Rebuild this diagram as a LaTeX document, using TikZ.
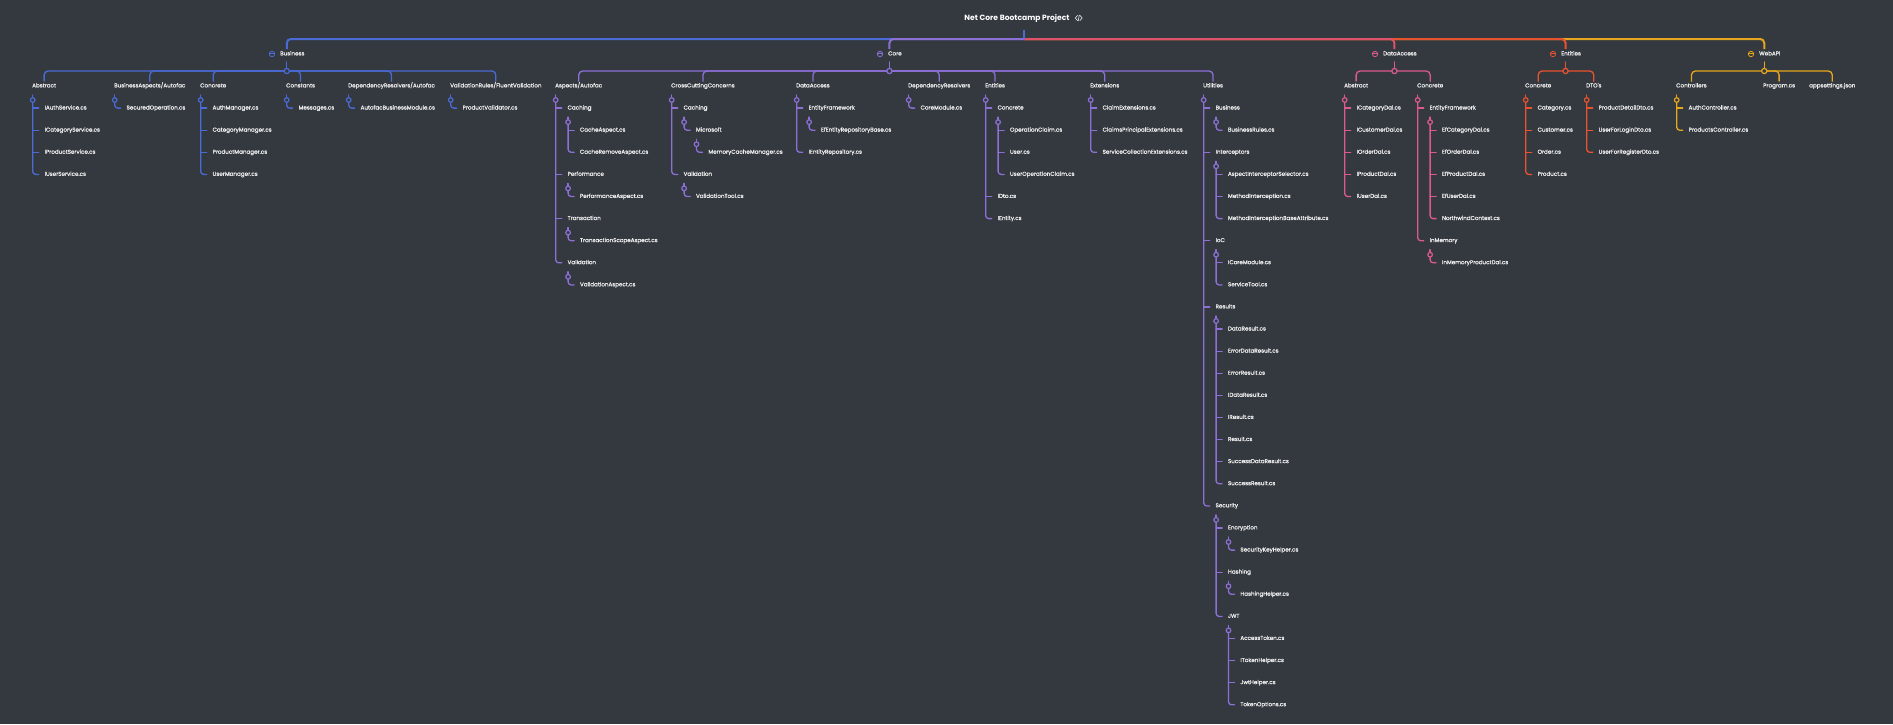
\documentclass[tikz,border=0pt]{standalone}
\usepackage{fontspec}
\setmainfont{Poppins}
\newfontfamily\medfont{Poppins}[FakeBold=0.9]
\definecolor{bg}{HTML}{34393F}
\definecolor{txtc}{HTML}{EEEEEE}
\definecolor{bizc}{HTML}{4A6BD6}
\definecolor{corec}{HTML}{8D70D6}
\definecolor{dac}{HTML}{DC5A8E}
\definecolor{datop}{HTML}{E0526A}
\definecolor{entc}{HTML}{E8532F}
\definecolor{webc}{HTML}{E6A61E}
\colorlet{brc}{bizc}
\tikzset{
  txt/.style={anchor=west, inner sep=0pt, text height=4pt, text depth=1.2pt, font=\medfont\fontsize{5.6}{6}\selectfont, text=txtc},
  conn/.style={draw=brc, line width=1.3pt, line cap=round},
  jct/.style={draw=brc, fill=bg, line width=1.2pt},
  topl/.style={line width=2pt, rounded corners=4pt},
  icn/.style={draw=brc, line width=0.8pt},
}
\newcommand\Lab[4]{\node[txt] (#1) at (#2,{86+22.1*(#3)}) {#4};}
\newcommand\FoldLine[2]{%
  \coordinate (#1j) at ([xshift=0.7pt,yshift=-14pt]#1.west);
  \draw[conn,rounded corners=3pt] (#1j) |- ([xshift=-5.7pt]#2.west);
  \draw[conn] (#1j) -- ([yshift=5pt]#1j);
  \draw[jct] (#1j) circle (2.3pt);}
\newcommand\Ticks[2]{\foreach \c in {#2}{\draw[conn] (#1j |- \c.west) -- ([xshift=-5.7pt]\c.west);}}
\newcommand\Drop[2]{\draw[conn,rounded corners=4pt] (#1j) -| ([yshift=2pt]#2.north);}
\newcommand\Hub[1]{%
  \coordinate (#1j) at (#1.north |- y71);
  \draw[conn] (#1j) -- ([yshift=9pt]#1j);
  \draw[jct] (#1j) circle (2.6pt);
  \draw[icn] ([xshift=3pt]#1.west) circle (2.7pt);
  \draw[icn] ([xshift=0.6pt,yshift=0.4pt]#1.west) -- ([xshift=5.4pt,yshift=0.4pt]#1.west);}
\begin{document}
\begin{tikzpicture}[x=1pt,y=-1pt]
\useasboundingbox (0,0) rectangle (1893,724);
\fill[bg] (0,0) rectangle (1893,724);
\coordinate (y71) at (0,71);
\coordinate (rootj) at (1024,39);

% title
\node[inner sep=0pt, font=\bfseries\fontsize{7.6}{9}\selectfont, text=white] (ttl) at (1017,18) {Net Core Bootcamp Project};
\coordinate (ico) at ([xshift=9pt]ttl.east);
\draw[txtc, line width=0.6pt, line cap=round] (ico) ++(-1.2,-2.6) -- ++(-2.2,2.6) -- ++(2.2,2.6);
\draw[txtc, line width=0.6pt, line cap=round] (ico) ++(1.2,-2.6) -- ++(2.2,2.6) -- ++(-2.2,2.6);
\draw[txtc, line width=0.6pt, line cap=round] (ico) ++(0.6,-3) -- ++(-1.2,6);

% second level nodes
\node[txt] (biz) at (269,54) {\hspace{11pt}Business};
\node[txt] (core) at (877,54) {\hspace{11pt}Core};
\node[txt] (da) at (1372,54) {\hspace{11pt}DataAccess};
\node[txt] (ent) at (1550,54) {\hspace{11pt}Entities};
\node[txt] (web) at (1748,54) {\hspace{11pt}WebAPI};

\draw[topl,webc] (rootj) -| ([yshift=2pt]web.north);
\draw[topl,entc] (rootj) -| ([yshift=2pt]ent.north);
\draw[topl,datop] (rootj) -| ([yshift=2pt]da.north);
\draw[topl,bizc] (rootj) -| ([yshift=2pt]biz.north);
\draw[topl,corec] (rootj) -| ([yshift=2pt]core.north);
\draw[bizc,line width=2pt] (rootj) -- ([yshift=9pt]rootj);

% ===== Business =====
\begin{scope}
\colorlet{brc}{bizc}
\Lab{bAbs}{32}{0}{Abstract}
\Lab{bAsp}{114}{0}{BusinessAspects/Autofac}
\Lab{bCon}{200}{0}{Concrete}
\Lab{bCst}{286}{0}{Constants}
\Lab{bDep}{348}{0}{DependencyResolvers/Autofac}
\Lab{bVal}{450}{0}{ValidationRules/FluentValidation}
\Lab{bAbs1}{44.4}{1}{IAuthService.cs}
\Lab{bAbs2}{44.4}{2}{ICategoryService.cs}
\Lab{bAbs3}{44.4}{3}{IProductService.cs}
\Lab{bAbs4}{44.4}{4}{IUserService.cs}
\Lab{bAsp1}{126.4}{1}{SecuredOperation.cs}
\Lab{bCon1}{212.4}{1}{AuthManager.cs}
\Lab{bCon2}{212.4}{2}{CategoryManager.cs}
\Lab{bCon3}{212.4}{3}{ProductManager.cs}
\Lab{bCon4}{212.4}{4}{UserManager.cs}
\Lab{bCst1}{298.4}{1}{Messages.cs}
\Lab{bDep1}{360.4}{1}{AutofacBusinessModule.cs}
\Lab{bVal1}{462.4}{1}{ProductValidator.cs}
\coordinate (bizj) at (biz.north |- y71);
\foreach \c in {bAbs,bAsp,bCon,bCst,bDep,bVal}{\Drop{biz}{\c}}
\Hub{biz}
\FoldLine{bAbs}{bAbs4}\Ticks{bAbs}{bAbs1,bAbs2,bAbs3}
\FoldLine{bAsp}{bAsp1}
\FoldLine{bCon}{bCon4}\Ticks{bCon}{bCon1,bCon2,bCon3}
\FoldLine{bCst}{bCst1}
\FoldLine{bDep}{bDep1}
\FoldLine{bVal}{bVal1}
\end{scope}

% ===== Core =====
\begin{scope}
\colorlet{brc}{corec}
\Lab{cAsp}{555}{0}{Aspects/Autofac}
\Lab{cCcc}{671}{0}{CrossCuttingConcerns}
\Lab{cDa}{796}{0}{DataAccess}
\Lab{cDep}{908}{0}{DependencyResolvers}
\Lab{cEnt}{985}{0}{Entities}
\Lab{cExt}{1090}{0}{Extensions}
\Lab{cUti}{1203}{0}{Utilities}
\Lab{cAspC}{567.4}{1}{Caching}
\Lab{cAspC1}{579.8}{2}{CacheAspect.cs}
\Lab{cAspC2}{579.8}{3}{CacheRemoveAspect.cs}
\Lab{cAspP}{567.4}{4}{Performance}
\Lab{cAspP1}{579.8}{5}{PerformanceAspect.cs}
\Lab{cAspT}{567.4}{6}{Transaction}
\Lab{cAspT1}{579.8}{7}{TransactionScopeAspect.cs}
\Lab{cAspV}{567.4}{8}{Validation}
\Lab{cAspV1}{579.8}{9}{ValidationAspect.cs}
\Lab{cCccC}{683.4}{1}{Caching}
\Lab{cCccM}{695.8}{2}{Microsoft}
\Lab{cCccM1}{708.2}{3}{MemoryCacheManager.cs}
\Lab{cCccV}{683.4}{4}{Validation}
\Lab{cCccV1}{695.8}{5}{ValidationTool.cs}
\Lab{cDaE}{808.4}{1}{EntityFramework}
\Lab{cDaE1}{820.8}{2}{EfEntityRepositoryBase.cs}
\Lab{cDa2}{808.4}{3}{IEntityRepository.cs}
\Lab{cDep1}{920.4}{1}{CoreModule.cs}
\Lab{cEntC}{997.4}{1}{Concrete}
\Lab{cEntC1}{1009.8}{2}{OperationClaim.cs}
\Lab{cEntC2}{1009.8}{3}{User.cs}
\Lab{cEntC3}{1009.8}{4}{UserOperationClaim.cs}
\Lab{cEnt2}{997.4}{5}{IDto.cs}
\Lab{cEnt3}{997.4}{6}{IEntity.cs}
\Lab{cExt1}{1102.4}{1}{ClaimExtensions.cs}
\Lab{cExt2}{1102.4}{2}{ClaimsPrincipalExtensions.cs}
\Lab{cExt3}{1102.4}{3}{ServiceCollectionExtensions.cs}
\Lab{uBus}{1215.4}{1}{Business}
\Lab{uBus1}{1227.8}{2}{BusinessRules.cs}
\Lab{uInt}{1215.4}{3}{Interceptors}
\Lab{uInt1}{1227.8}{4}{AspectInterceptorSelector.cs}
\Lab{uInt2}{1227.8}{5}{MethodInterception.cs}
\Lab{uInt3}{1227.8}{6}{MethodInterceptionBaseAttribute.cs}
\Lab{uIoc}{1215.4}{7}{IoC}
\Lab{uIoc1}{1227.8}{8}{ICoreModule.cs}
\Lab{uIoc2}{1227.8}{9}{ServiceTool.cs}
\Lab{uRes}{1215.4}{10}{Results}
\Lab{uRes1}{1227.8}{11}{DataResult.cs}
\Lab{uRes2}{1227.8}{12}{ErrorDataResult.cs}
\Lab{uRes3}{1227.8}{13}{ErrorResult.cs}
\Lab{uRes4}{1227.8}{14}{IDataResult.cs}
\Lab{uRes5}{1227.8}{15}{IResult.cs}
\Lab{uRes6}{1227.8}{16}{Result.cs}
\Lab{uRes7}{1227.8}{17}{SuccessDataResult.cs}
\Lab{uRes8}{1227.8}{18}{SuccessResult.cs}
\Lab{uSec}{1215.4}{19}{Security}
\Lab{uSecE}{1227.8}{20}{Encryption}
\Lab{uSecE1}{1240.2}{21}{SecurityKeyHelper.cs}
\Lab{uSecH}{1227.8}{22}{Hashing}
\Lab{uSecH1}{1240.2}{23}{HashingHelper.cs}
\Lab{uSecJ}{1227.8}{24}{JWT}
\Lab{uSecJ1}{1240.2}{25}{AccessToken.cs}
\Lab{uSecJ2}{1240.2}{26}{ITokenHelper.cs}
\Lab{uSecJ3}{1240.2}{27}{JwtHelper.cs}
\Lab{uSecJ4}{1240.2}{28}{TokenOptions.cs}
\coordinate (corej) at (core.north |- y71);
\foreach \c in {cAsp,cCcc,cDa,cDep,cEnt,cExt,cUti}{\Drop{core}{\c}}
\Hub{core}
\FoldLine{cAsp}{cAspV}\Ticks{cAsp}{cAspC,cAspP,cAspT}
\FoldLine{cAspC}{cAspC2}\Ticks{cAspC}{cAspC1}
\FoldLine{cAspP}{cAspP1}
\FoldLine{cAspT}{cAspT1}
\FoldLine{cAspV}{cAspV1}
\FoldLine{cCcc}{cCccV}\Ticks{cCcc}{cCccC}
\FoldLine{cCccC}{cCccM}
\FoldLine{cCccM}{cCccM1}
\FoldLine{cCccV}{cCccV1}
\FoldLine{cDa}{cDa2}\Ticks{cDa}{cDaE}
\FoldLine{cDaE}{cDaE1}
\FoldLine{cDep}{cDep1}
\FoldLine{cEnt}{cEnt3}\Ticks{cEnt}{cEntC,cEnt2}
\FoldLine{cEntC}{cEntC3}\Ticks{cEntC}{cEntC1,cEntC2}
\FoldLine{cExt}{cExt3}\Ticks{cExt}{cExt1,cExt2}
\FoldLine{cUti}{uSec}\Ticks{cUti}{uBus,uInt,uIoc,uRes}
\FoldLine{uBus}{uBus1}
\FoldLine{uInt}{uInt3}\Ticks{uInt}{uInt1,uInt2}
\FoldLine{uIoc}{uIoc2}\Ticks{uIoc}{uIoc1}
\FoldLine{uRes}{uRes8}\Ticks{uRes}{uRes1,uRes2,uRes3,uRes4,uRes5,uRes6,uRes7}
\FoldLine{uSec}{uSecJ}\Ticks{uSec}{uSecE,uSecH}
\FoldLine{uSecE}{uSecE1}
\FoldLine{uSecH}{uSecH1}
\FoldLine{uSecJ}{uSecJ4}\Ticks{uSecJ}{uSecJ1,uSecJ2,uSecJ3}
\end{scope}

% ===== DataAccess =====
\begin{scope}
\colorlet{brc}{dac}
\Lab{dAbs}{1344}{0}{Abstract}
\Lab{dCon}{1417}{0}{Concrete}
\Lab{dAbs1}{1356.4}{1}{ICategoryDal.cs}
\Lab{dAbs2}{1356.4}{2}{ICustomerDal.cs}
\Lab{dAbs3}{1356.4}{3}{IOrderDal.cs}
\Lab{dAbs4}{1356.4}{4}{IProductDal.cs}
\Lab{dAbs5}{1356.4}{5}{IUserDal.cs}
\Lab{dConE}{1429.4}{1}{EntityFramework}
\Lab{dConE1}{1441.8}{2}{EfCategoryDal.cs}
\Lab{dConE2}{1441.8}{3}{EfOrderDal.cs}
\Lab{dConE3}{1441.8}{4}{EfProductDal.cs}
\Lab{dConE4}{1441.8}{5}{EfUserDal.cs}
\Lab{dConE5}{1441.8}{6}{NorthwindContext.cs}
\Lab{dConI}{1429.4}{7}{InMemory}
\Lab{dConI1}{1441.8}{8}{InMemoryProductDal.cs}
\coordinate (daj) at (da.north |- y71);
\foreach \c in {dAbs,dCon}{\Drop{da}{\c}}
\Hub{da}
\FoldLine{dAbs}{dAbs5}\Ticks{dAbs}{dAbs1,dAbs2,dAbs3,dAbs4}
\FoldLine{dCon}{dConI}\Ticks{dCon}{dConE}
\FoldLine{dConE}{dConE5}\Ticks{dConE}{dConE1,dConE2,dConE3,dConE4}
\FoldLine{dConI}{dConI1}
\end{scope}

% ===== Entities =====
\begin{scope}
\colorlet{brc}{entc}
\Lab{eCon}{1525}{0}{Concrete}
\Lab{eDto}{1586}{0}{DTO's}
\Lab{eCon1}{1537.4}{1}{Category.cs}
\Lab{eCon2}{1537.4}{2}{Customer.cs}
\Lab{eCon3}{1537.4}{3}{Order.cs}
\Lab{eCon4}{1537.4}{4}{Product.cs}
\Lab{eDto1}{1598.4}{1}{ProductDetailDto.cs}
\Lab{eDto2}{1598.4}{2}{UserForLoginDto.cs}
\Lab{eDto3}{1598.4}{3}{UserForRegisterDto.cs}
\coordinate (entj) at (ent.north |- y71);
\foreach \c in {eCon,eDto}{\Drop{ent}{\c}}
\Hub{ent}
\FoldLine{eCon}{eCon4}\Ticks{eCon}{eCon1,eCon2,eCon3}
\FoldLine{eDto}{eDto3}\Ticks{eDto}{eDto1,eDto2}
\end{scope}

% ===== WebAPI =====
\begin{scope}
\colorlet{brc}{webc}
\Lab{wCtl}{1676}{0}{Controllers}
\Lab{wPrg}{1763}{0}{Program.cs}
\Lab{wApp}{1809}{0}{appsettings.json}
\Lab{wCtl1}{1688.4}{1}{AuthController.cs}
\Lab{wCtl2}{1688.4}{2}{ProductsController.cs}
\coordinate (webj) at (web.north |- y71);
\foreach \c in {wCtl,wPrg,wApp}{\Drop{web}{\c}}
\Hub{web}
\FoldLine{wCtl}{wCtl2}\Ticks{wCtl}{wCtl1}
\end{scope}
\end{tikzpicture}
\end{document}
